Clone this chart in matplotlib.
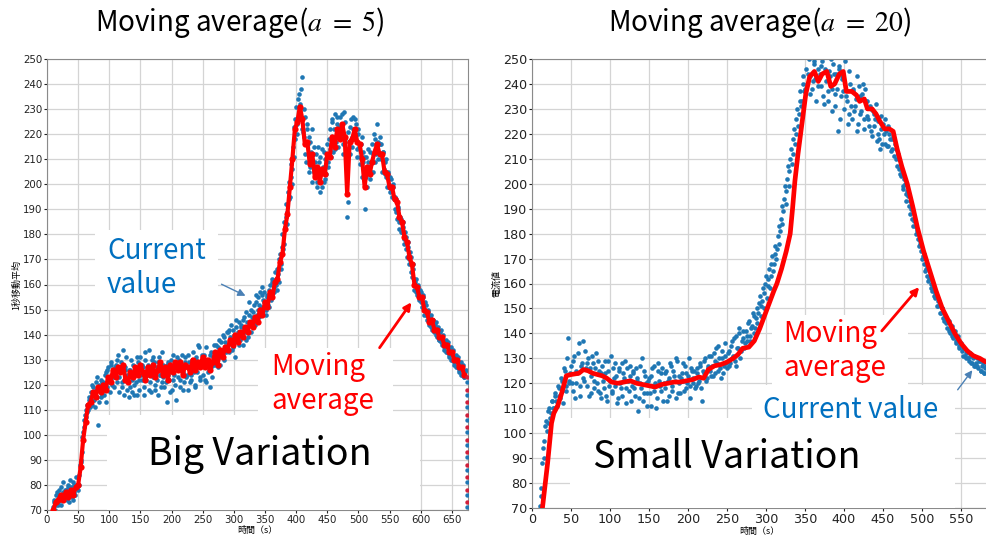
import numpy as np
import matplotlib
matplotlib.use("Agg")
import matplotlib.pyplot as plt
from matplotlib.patches import Rectangle, FancyArrowPatch

plt.rcParams['font.family'] = ['Noto Sans CJK JP', 'DejaVu Sans']
plt.rcParams['mathtext.fontset'] = 'stix'

# ---------------- left run (a = 5) ----------------
# current value, even seconds from t = 10 s
t_left = np.arange(10, 673, 2)
cur_left = [
    71, 74, 72, 77, 73, 76, 79, 74, 77, 75,
    78, 74, 80, 76, 79, 75, 81, 77, 80, 79,
    83, 84, 90, 93, 101, 106, 107, 112, 110, 115,
    117, 112, 119, 114, 121, 115, 104, 120, 122, 116,
    121, 116, 125, 119, 127, 121, 129, 120, 126, 123,
    128, 121, 132, 123, 127, 119, 134, 122, 126, 118,
    121, 115, 126, 117, 128, 120, 124, 116, 129, 122,
    131, 122, 127, 119, 133, 124, 128, 118, 125, 130,
    123, 129, 120, 127, 116, 131, 124, 121, 128, 119,
    125, 113, 129, 122, 127, 118, 132, 124, 120, 128,
    123, 130, 119, 127, 125, 121, 131, 124, 118, 129,
    126, 122, 133, 125, 120, 130, 127, 135, 123, 129,
    124, 132, 127, 121, 130, 126, 119, 133, 128, 136,
    129, 136, 127, 138, 131, 133, 140, 130, 137, 134,
    141, 133, 139, 144, 135, 140, 131, 143, 137, 145,
    138, 144, 136, 147, 141, 149, 139, 153, 145, 150,
    146, 152, 144, 156, 150, 147, 157, 151, 159, 153,
    153, 148, 156, 151, 160, 154, 162, 157, 165, 160,
    166, 161, 172, 168, 180, 176, 183, 192, 189, 201,
    195, 208, 206, 223, 218, 231, 224, 236, 226, 238,
    243, 219, 227, 209, 222, 205, 217, 213, 201, 215,
    203, 212, 199, 209, 197, 206, 214, 201, 210, 204,
    216, 207, 222, 211, 225, 213, 228, 217, 224, 215,
    227, 219, 228, 216, 225, 210, 187, 221, 212, 226,
    215, 227, 218, 224, 211, 222, 208, 216, 203, 213,
    190, 211, 199, 214, 202, 209, 216, 205, 218, 212,
    224, 210, 219, 216, 205, 213, 204, 210, 199, 204,
    197, 202, 195, 199, 190, 194, 186, 190, 182, 186,
    181, 183, 176, 179, 171, 175, 168, 171, 163, 166,
    158, 162, 156, 159, 154, 157, 151, 155, 148, 152,
    146, 150, 144, 148, 142, 146, 141, 145, 139, 143,
    138, 142, 136, 140, 134, 138, 133, 137, 131, 135,
    130, 134, 128, 132, 127, 131, 125, 129, 124, 128,
    123, 126,
]
# current value, odd seconds
t_left_odd = np.arange(11, 672, 2)
cur_left_odd = [
    73, 70, 76, 72, 78, 74, 72, 81, 75, 78,
    75, 79, 73, 82, 77, 74, 80, 76, 83, 78,
    80, 88, 89, 99, 103, 108, 110, 109, 114, 111,
    114, 120, 116, 111, 118, 123, 113, 119, 115, 121,
    118, 124, 113, 126, 122, 117, 128, 123, 119, 127,
    123, 130, 117, 125, 129, 121, 116, 127, 131, 124,
    126, 119, 130, 122, 116, 127, 121, 131, 118, 126,
    124, 128, 116, 130, 122, 126, 134, 121, 117, 127,
    131, 118, 125, 122, 129, 124, 119, 133, 123, 126,
    121, 128, 124, 117, 130, 125, 122, 127, 114, 131,
    128, 122, 126, 132, 118, 129, 123, 127, 132, 121,
    124, 130, 126, 119, 131, 125, 136, 122, 128, 132,
    128, 122, 135, 129, 125, 132, 127, 123, 131, 128,
    133, 130, 135, 128, 137, 134, 132, 139, 133, 141,
    136, 142, 138, 134, 142, 137, 146, 139, 141, 136,
    143, 139, 146, 142, 138, 145, 143, 148, 141, 147,
    149, 145, 153, 148, 155, 152, 149, 156, 154, 157,
    150, 155, 152, 158, 155, 161, 157, 159, 162, 158,
    164, 170, 166, 175, 174, 185, 187, 184, 197, 194,
    203, 200, 215, 211, 226, 220, 234, 228, 232, 222,
    221, 230, 212, 224, 216, 219, 207, 222, 212, 205,
    209, 201, 215, 204, 211, 199, 207, 213, 202, 211,
    209, 218, 214, 226, 219, 222, 214, 227, 219, 223,
    220, 224, 212, 229, 218, 214, 193, 217, 223, 219,
    222, 219, 226, 214, 220, 215, 211, 219, 209, 211,
    206, 203, 209, 207, 213, 205, 212, 220, 209, 216,
    217, 212, 216, 210, 213, 206, 209, 203, 205, 199,
    203, 198, 200, 194, 195, 189, 191, 185, 187, 181,
    185, 178, 181, 174, 177, 170, 173, 165, 168, 162,
    161, 157, 160, 155, 158, 153, 156, 150, 153, 148,
    149, 145, 147, 143, 146, 142, 144, 140, 142, 138,
    141, 137, 139, 135, 137, 133, 136, 132, 134, 130,
    133, 129, 131, 127, 130, 126, 128, 124, 127, 123,
    125,
]
# moving average, every 4 s
t_left_ma = np.arange(10, 671, 4)
ma_left = [
    70, 73, 74, 76, 74, 77, 75, 78, 76, 79,
    80, 87, 98, 105, 112, 113, 117, 115, 119, 117,
    120, 118, 123, 121, 126, 123, 127, 125, 128, 122,
    121, 125, 123, 127, 124, 128, 125, 122, 127, 124,
    128, 123, 126, 129, 124, 127, 122, 128, 125, 129,
    126, 129, 124, 128, 127, 125, 130, 126, 129, 127,
    131, 127, 130, 126, 129, 133, 128, 134, 131, 135,
    134, 138, 136, 140, 137, 141, 139, 143, 141, 145,
    143, 147, 145, 150, 148, 153, 151, 157, 155, 161,
    162, 169, 172, 182, 188, 199, 210, 222, 225, 231,
    226, 216, 217, 208, 212, 203, 207, 201, 206, 204,
    212, 211, 219, 215, 222, 218, 224, 219, 196, 217,
    218, 222, 217, 216, 210, 199, 207, 204, 209, 213,
    216, 212, 212, 205, 204, 199, 199, 194, 193, 187,
    185, 179, 177, 171, 168, 160, 159, 155, 155, 150,
    149, 145, 146, 142, 142, 139, 139, 136, 136, 133,
    133, 130, 130, 127, 127, 124,
]
# end of run: readings fall off at one time stamp
drop_t = 674
drop_cur = [121, 116, 111, 106, 101, 96, 91, 86, 81, 76, 71]
drop_ma = [123, 118, 113, 108, 103, 98, 93, 88, 83, 78, 73]

# ---------------- right run (a = 20) ----------------
t_right = np.arange(10, 583, 2)
cur_right = [
    71, 78, 94, 97, 105, 104, 110, 108, 113, 110,
    116, 111, 118, 114, 121, 112, 125, 117, 138, 120,
    127, 117, 131, 120, 124, 136, 115, 128, 122, 133,
    119, 130, 126, 116, 128, 121, 132, 117, 125, 114,
    127, 118, 124, 113, 129, 121, 116, 126, 119, 123,
    114, 125, 118, 128, 122, 112, 126, 117, 123, 119,
    124, 115, 121, 109, 127, 118, 113, 125, 120, 116,
    122, 111, 126, 117, 120, 114, 128, 119, 124, 113,
    118, 125, 121, 115, 127, 119, 123, 114, 129, 120,
    116, 124, 121, 127, 118, 123, 114, 126, 120, 125,
    119, 126, 121, 128, 113, 124, 130, 122, 127, 125,
    131, 123, 129, 134, 125, 130, 122, 133, 127, 131,
    126, 133, 128, 137, 131, 129, 139, 134, 142, 133,
    138, 134, 141, 137, 145, 139, 143, 147, 142, 150,
    148, 155, 151, 158, 156, 163, 159, 166, 163, 171,
    168, 175, 174, 183, 181, 191, 189, 199, 197, 207,
    205, 214, 212, 222, 220, 230, 228, 237, 233, 243,
    238, 251, 244, 236, 253, 241, 248, 233, 246, 252,
    239, 249, 232, 246, 254, 237, 243, 229, 248, 236,
    244, 221, 247, 235, 242, 230, 251, 233, 228, 240,
    226, 238, 231, 243, 224, 235, 229, 240, 222, 233,
    233, 223, 230, 219, 228, 226, 217, 225, 214, 222,
    224, 216, 221, 215, 220, 213, 218, 211, 214, 207,
    210, 204, 205, 198, 200, 193, 195, 188, 190, 183,
    185, 180, 182, 175, 177, 170, 172, 165, 167, 161,
    163, 158, 160, 154, 156, 151, 153, 148, 150, 145,
    147, 142, 145, 140, 143, 138, 141, 136, 139, 134,
    136, 131, 134, 130, 133, 129, 132, 128, 131, 127,
    130, 126, 129, 125, 128, 124, 127,
]
t_right_odd = np.arange(11, 582, 2)
cur_right_odd = [
    75, 88, 90, 103, 101, 109, 106, 113, 110, 115,
    113, 119, 115, 122, 117, 126, 119, 130, 121, 124,
    120, 129, 114, 125, 132, 119, 127, 137, 121, 126,
    128, 115, 123, 131, 118, 126, 120, 129, 116, 124,
    121, 129, 115, 125, 119, 131, 117, 122, 128, 112,
    126, 120, 115, 124, 129, 118, 121, 127, 113, 125,
    118, 126, 122, 114, 120, 130, 116, 123, 111, 121,
    116, 123, 119, 127, 110, 125, 121, 117, 126, 120,
    124, 113, 122, 128, 117, 125, 121, 130, 116, 123,
    122, 128, 117, 124, 120, 130, 119, 125, 122, 118,
    124, 120, 127, 118, 125, 129, 121, 126, 131, 123,
    127, 132, 124, 128, 135, 126, 130, 124, 136, 128,
    132, 127, 135, 130, 138, 127, 134, 140, 130, 137,
    141, 136, 139, 144, 137, 142, 148, 140, 146, 144,
    152, 147, 153, 150, 160, 154, 162, 158, 168, 165,
    172, 170, 179, 176, 186, 184, 194, 192, 202, 199,
    210, 208, 218, 216, 226, 223, 233, 231, 240, 237,
    246, 240, 250, 243, 238, 249, 242, 252, 239, 244,
    247, 235, 251, 241, 233, 245, 250, 238, 244, 231,
    238, 246, 226, 243, 237, 249, 235, 224, 245, 231,
    237, 229, 234, 221, 239, 228, 236, 226, 238, 227,
    226, 231, 221, 229, 223, 232, 220, 218, 227, 216,
    220, 226, 215, 223, 218, 214, 219, 216, 210, 212,
    206, 203, 199, 202, 196, 197, 191, 193, 186, 189,
    183, 181, 178, 176, 173, 171, 168, 166, 163, 162,
    160, 157, 155, 156, 151, 153, 148, 150, 146, 147,
    144, 145, 141, 142, 139, 140, 137, 138, 135, 136,
    133, 134, 131, 132, 130, 131, 128, 130, 127, 128,
    127, 129, 125, 127, 124, 126,
]
t_right_ma = [
    10, 13, 20, 25, 28, 33, 38, 44, 50, 60,
    66, 72, 78, 84, 90, 96, 102, 110, 118, 126,
    134, 142, 150, 158, 166, 174, 182, 190, 198, 206,
    214, 220, 226, 234, 242, 250, 258, 264, 270, 278,
    285, 292, 298, 304, 310, 314, 320, 326, 331, 334,
    337, 341, 346, 351, 356, 362, 367, 372, 378, 383,
    388, 394, 399, 403, 410, 416, 420, 426, 430, 436,
    441, 446, 452, 458, 463, 468, 474, 481, 488, 494,
    502, 510, 518, 526, 534, 542, 550, 558, 566, 574,
    582,
]
ma_right = [
    60, 69, 88, 104, 108, 111, 116, 123, 123.5, 124,
    125.5, 125, 124, 123.5, 123, 122, 120.5, 120, 120.5, 121,
    120, 119.5, 119, 118.5, 119.5, 120, 120.5, 120.5, 121, 121.5,
    122.5, 122, 125.5, 127, 127.5, 128.5, 130, 131.5, 134, 134.5,
    137, 142, 147, 152, 157, 160, 166, 173, 180, 190,
    201, 212, 224, 236, 243, 245, 241, 244, 245, 239,
    240, 244, 245, 237, 237, 235.5, 233, 234, 230, 230,
    228, 225, 222, 222, 221, 214, 207, 200, 191, 182.5,
    173, 165, 157, 150, 145, 140, 136, 133, 131, 130,
    128.5,
]

BLUE = '#1f77b4'
W, H = 986, 540


def fxy(x, y):
    # pixel position -> figure fraction
    return x / W, 1 - y / H


def style_axes(ax, xmax, xticks, ticksize):
    ax.set_xlim(0, xmax)
    ax.set_ylim(70, 250)
    ax.set_xticks(xticks)
    ax.set_yticks(np.arange(70, 251, 10))
    ax.grid(True, color='#d4d4d4', lw=0.9)
    ax.set_axisbelow(True)
    ax.tick_params(labelsize=ticksize, length=2, colors='#222222', pad=1.5)
    for lab in ax.get_xticklabels() + ax.get_yticklabels():
        lab.set_family('DejaVu Sans')
    for s in ax.spines.values():
        s.set_color('#8a8a8a')


fig = plt.figure(figsize=(W / 100, H / 100), dpi=100)

# left panel
ax1 = fig.add_axes([47 / W, 30 / H, 421 / W, 451 / H])
ax1.scatter(t_left, cur_left, s=11, color=BLUE, linewidths=0, zorder=2)
ax1.scatter(t_left_odd, cur_left_odd, s=11, color=BLUE, linewidths=0, zorder=2)
ax1.plot(t_left_ma, ma_left, color='red', lw=3.0, zorder=3)
ax1.scatter(t_left_ma, ma_left, s=20, color='red', linewidths=0, zorder=3)
ax1.scatter([drop_t] * len(drop_cur), drop_cur, s=10, color=BLUE, linewidths=0, zorder=3)
ax1.scatter([drop_t] * len(drop_ma), drop_ma, s=10, color='#d0203a', linewidths=0, zorder=3)
style_axes(ax1, 676, np.arange(0, 651, 50), 7.4)
ax1.set_xlabel('時間（s）', fontsize=6.5, labelpad=1)
ax1.set_ylabel('1秒移動平均', fontsize=6.5, labelpad=1)

# right panel
ax2 = fig.add_axes([532 / W, 32 / H, (W - 532) / W, 449 / H])
ax2.scatter(t_right, cur_right, s=11, color=BLUE, linewidths=0, zorder=2)
ax2.scatter(t_right_odd, cur_right_odd, s=11, color=BLUE, linewidths=0, zorder=2)
ax2.plot(t_right_ma, ma_right, color='red', lw=3.4, zorder=3, solid_capstyle='round')
style_axes(ax2, 582, np.arange(0, 551, 50), 9.2)
ax2.spines['right'].set_visible(False)
ax2.set_xlabel('時間（s）', fontsize=6.5, labelpad=1)
ax2.set_ylabel('電流値', fontsize=6.5, labelpad=1)

# titles
fig.text(*fxy(240, 22), r'Moving average($a\ =\ 5$)', ha='center', va='center', fontsize=20)
fig.text(*fxy(760, 22), r'Moving average($a\ =\ 20$)', ha='center', va='center', fontsize=20)

# white label boxes over the plots
boxes = [
    (95, 230, 218, 310),
    (258, 348, 393, 415),
    (107, 415, 420, 510),
    (772, 315, 908, 385),
    (752, 385, 955, 440),
    (570, 418, 955, 508),
]
for x0, y0, x1, y1 in boxes:
    fig.add_artist(Rectangle(fxy(x0, y1), (x1 - x0) / W, (y1 - y0) / H,
                             transform=fig.transFigure, facecolor='white',
                             edgecolor='none', zorder=5))

lbl = dict(ha='left', va='center', fontsize=20, zorder=6, linespacing=1.15)
fig.text(*fxy(107, 268), 'Current\nvalue', color='#0070c0', **lbl)
fig.text(*fxy(271, 384), 'Moving\naverage', color='#ff0000', **lbl)
fig.text(*fxy(783, 351), 'Moving\naverage', color='#ff0000', **lbl)
fig.text(*fxy(763, 410), 'Current value', color='#0070c0', **lbl)
fig.text(*fxy(260, 455), 'Big Variation', ha='center', va='center', fontsize=27, zorder=6)
fig.text(*fxy(727, 458), 'Small Variation', ha='center', va='center', fontsize=27, zorder=6)

# pointers
arrows = [
    ((219, 283), (248, 297), '#4a80b5', 1.0),
    ((378, 350), (413, 300), '#ff0000', 2.0),
    ((880, 333), (921, 285), '#ff0000', 2.0),
    ((956, 392), (974, 368), '#4a80b5', 1.0),
]
for tail, tip, col, lw in arrows:
    fig.add_artist(FancyArrowPatch(fxy(*tail), fxy(*tip), transform=fig.transFigure,
                                   arrowstyle='-|>', mutation_scale=11, color=col,
                                   lw=lw, zorder=7))

fig.savefig('out.png', dpi=100)
